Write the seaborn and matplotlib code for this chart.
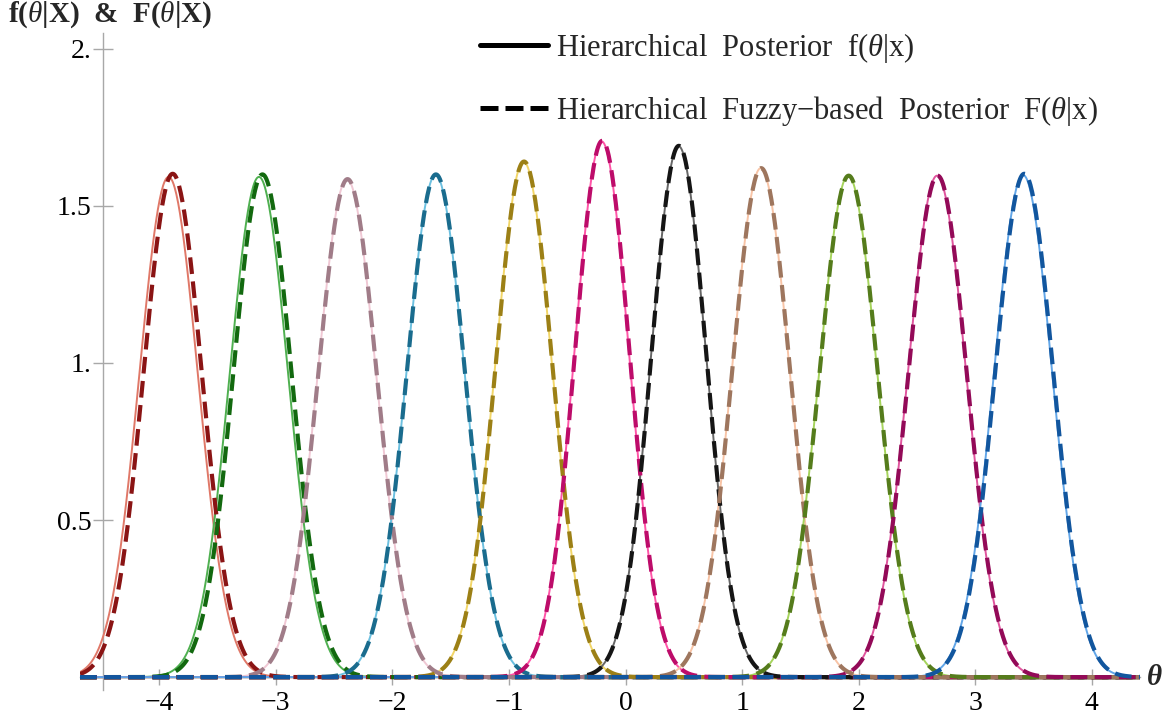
import numpy as np
import pandas as pd
import matplotlib
matplotlib.use("Agg")
import matplotlib.pyplot as plt
import seaborn as sns
from matplotlib.lines import Line2D

# Hierarchical posterior f(theta|x): centre and peak height of each curve
f_means = [-3.92, -3.145, -2.39, -1.63, -0.875, -0.205, 0.455, 1.16, 1.91, 2.672, 3.41]
f_peaks = [1.592, 1.592, 1.585, 1.598, 1.641, 1.705, 1.69, 1.62, 1.596, 1.596, 1.598]

# Hierarchical fuzzy-based posterior F(theta|x)
F_means = [-3.885, -3.115, -2.385, -1.627, -0.871, -0.2, 0.457, 1.163, 1.914, 2.677, 3.42]
F_peaks = [1.602, 1.6, 1.585, 1.6, 1.641, 1.707, 1.691, 1.62, 1.596, 1.596, 1.602]

f_colors = ["#e07868", "#4fb050", "#f0c8d4", "#6cc0e0", "#f2d668", "#ff55a8",
            "#666666", "#f8c4a6", "#a6d45c", "#e0559e", "#62a6e8"]
F_colors = ["#8a1414", "#12690f", "#a07c88", "#1a6c8e", "#9c8016", "#bd0c6a",
            "#151515", "#9e765e", "#557c1c", "#930a58", "#12569e"]

y_ticks = [0.5, 1.0, 1.5, 2.0]
y_tick_labels = ["0.5", "1.", "1.5", "2."]
x_ticks = [-4, -3, -2, -1, 0, 1, 2, 3, 4]
x_tick_labels = ["\u22124", "\u22123", "\u22122", "\u22121", "0", "1", "2", "3", "4"]

legend_labels = [r"Hierarchical  Posterior  f($\theta$|x)",
                 r"Hierarchical  Fuzzy$-$based  Posterior  F($\theta$|x)"]

x_min, x_max = -4.68, 4.413
theta = np.linspace(x_min, x_max, 1200)


def normal_density(mu, peak):
    sd = 1.0 / (peak * np.sqrt(2 * np.pi))
    return peak * np.exp(-0.5 * ((theta - mu) / sd) ** 2)


def build_frame(means, peaks, prefix):
    parts = []
    for i, (m, p) in enumerate(zip(means, peaks)):
        parts.append(pd.DataFrame({"theta": theta,
                                   "density": normal_density(m, p),
                                   "curve": f"{prefix}{i:02d}"}))
    return pd.concat(parts, ignore_index=True)


df_f = build_frame(f_means, f_peaks, "f")
df_F = build_frame(F_means, F_peaks, "F")

sns.set_theme(style="white")
plt.rcParams["font.family"] = ["Liberation Serif", "DejaVu Serif"]
plt.rcParams["mathtext.fontset"] = "custom"
plt.rcParams["mathtext.rm"] = "Liberation Serif"
plt.rcParams["mathtext.it"] = "Liberation Serif:italic"
plt.rcParams["mathtext.bf"] = "Liberation Serif:bold"

W, H = 1173, 727
fig = plt.figure(figsize=(W / 100, H / 100), dpi=100)
ax = fig.add_axes([80 / W, 1 - 690 / H, (1140 - 80) / W, (690 - 33) / H])

sns.lineplot(data=df_f, x="theta", y="density", hue="curve",
             palette=dict(zip(df_f["curve"].unique(), f_colors)),
             estimator=None, sort=False, legend=False, lw=1.4, ax=ax)
sns.lineplot(data=df_F, x="theta", y="density", hue="curve",
             palette=dict(zip(df_F["curve"].unique(), F_colors)),
             estimator=None, sort=False, legend=False, lw=3.0,
             linestyle=(0, (4, 1.8)), ax=ax)

ax.set_xlim(x_min, x_max)
ax.set_ylim(-0.041, 2.05)
ax.set_xlabel("")
ax.set_ylabel("")

for s in ["top", "right"]:
    ax.spines[s].set_visible(False)
ax.spines["left"].set_position(("data", -4.485))
ax.spines["bottom"].set_position(("data", 0))
for s in ["left", "bottom"]:
    ax.spines[s].set_color("#a8a8a8")
    ax.spines[s].set_linewidth(1.0)
    ax.spines[s].set_zorder(0.5)

ax.set_xticks(x_ticks)
ax.set_xticklabels(x_tick_labels)
ax.set_yticks(y_ticks)
ax.set_yticklabels(y_tick_labels)
ax.tick_params(axis="x", bottom=True, direction="inout", length=11.5, width=1.0,
               color="#a8a8a8", labelsize=20, pad=4, labelcolor="black")
ax.tick_params(axis="y", left=True, direction="inout", length=14.4, width=1.0,
               color="#a8a8a8", labelsize=20, pad=1, labelcolor="black")

# axis captions
ax.text(4.54, 0, "\u03b8", fontsize=21, fontstyle="italic", fontweight="bold",
        ha="center", va="center", clip_on=False)
fig.text(8 / W, 1 - 15 / H, r"f($\theta$|X)  &  F($\theta$|X)", fontsize=21,
         fontweight="bold", ha="left", va="center")

handles = [Line2D([], [], color="black", lw=3.6),
           Line2D([], [], color="black", lw=3.6, linestyle=(0, (3.6, 1.4)))]
fig.legend(handles, legend_labels, loc="upper left",
           bbox_to_anchor=(480 / W, 1 - 31 / H), frameon=False, fontsize=22,
           handlelength=2.23, handletextpad=0.26, labelspacing=0.95,
           borderaxespad=0, borderpad=0)

fig.savefig("out.png", dpi=100)
